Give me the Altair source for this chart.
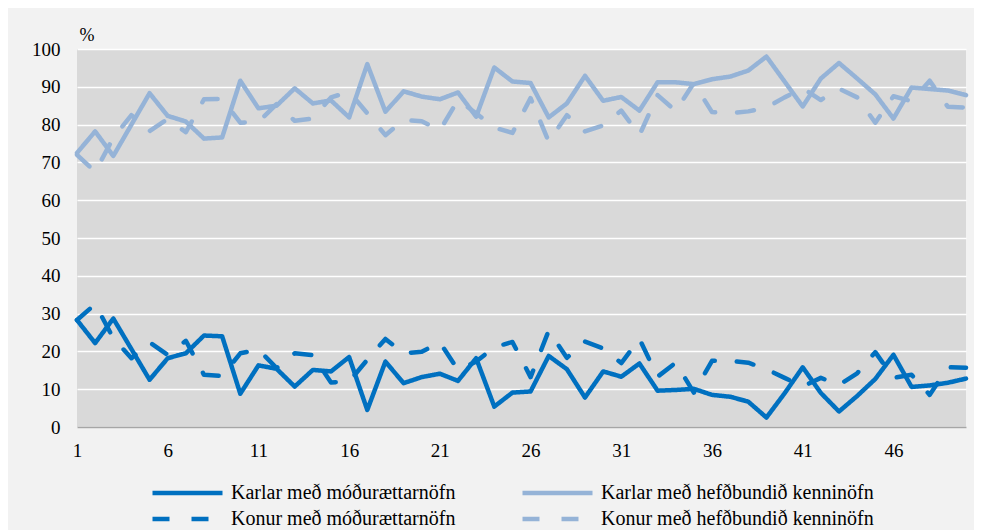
import altair as alt
import pandas as pd

periods = list(range(1, 51))

karlar_modur = [28.3, 22.2, 28.7, 20.6, 12.5, 18.2, 19.5, 24.2, 24.0, 8.8,
                16.3, 15.4, 10.7, 15.1, 14.7, 18.5, 4.5, 17.3, 11.6, 13.2,
                14.1, 12.2, 18.2, 5.4, 9.1, 9.4, 18.8, 15.3, 7.8, 14.7,
                13.3, 16.8, 9.6, 9.8, 10.1, 8.5, 8.0, 6.7, 2.5, 8.9,
                15.8, 9.0, 4.1, 8.2, 12.7, 19.1, 10.6, 11.0, 11.7, 12.8]

karlar_hefd = [72.5, 78.2, 71.7, 80.0, 88.3, 82.3, 80.8, 76.3, 76.6, 91.6,
               84.3, 85.0, 89.6, 85.6, 86.4, 81.9, 96.0, 83.4, 88.8, 87.4,
               86.7, 88.5, 82.1, 95.1, 91.4, 91.0, 81.9, 85.6, 92.9, 86.3,
               87.3, 83.7, 91.2, 91.2, 90.7, 92.0, 92.7, 94.3, 98.0, 91.4,
               84.8, 92.2, 96.3, 92.2, 88.0, 81.6, 89.8, 89.4, 89.0, 87.8]

konur_modur = [28.3, 32.5, 23.5, 18.2, 22.4, 19.1, 22.8, 13.8, 13.5, 19.5,
               20.5, 15.6, 19.5, 19.0, 11.8, 12.0, 17.8, 23.3, 19.5, 19.9,
               22.4, 15.1, 17.3, 21.1, 22.5, 13.2, 25.5, 18.3, 22.6, 20.8,
               16.9, 23.3, 13.3, 17.0, 9.1, 17.5, 17.5, 17.0, 15.3, 13.0,
               10.7, 13.0, 11.1, 14.2, 19.8, 13.0, 13.8, 8.5, 15.8, 15.7]

konur_hefd = [72.0, 67.5, 76.5, 82.5, 78.3, 81.5, 78.0, 86.7, 86.8, 80.5,
              80.7, 85.4, 81.0, 81.6, 87.2, 88.7, 83.0, 77.2, 81.2, 80.9,
              78.5, 86.5, 83.0, 79.2, 77.8, 87.0, 75.5, 82.5, 78.2, 79.8,
              83.7, 77.2, 87.8, 83.6, 91.0, 83.3, 83.0, 83.5, 84.5, 87.2,
              89.6, 86.5, 89.5, 87.2, 80.5, 87.5, 86.2, 91.6, 84.7, 84.5]

# legend order (column-major: left column first, then right column)
series_names = ["Karlar með móðurættarnöfn", "Konur með móðurættarnöfn",
                "Karlar með hefðbundið kenninöfn", "Konur með hefðbundið kenninöfn"]
series_values = [karlar_modur, konur_modur, karlar_hefd, konur_hefd]
series_colors = ["#0070C0", "#0070C0", "#95B3D7", "#95B3D7"]
series_dashes = [[1, 0], [17, 22], [1, 0], [17, 22]]

x_ticks = [1, 6, 11, 16, 21, 26, 31, 36, 41, 46]
y_ticks = list(range(0, 101, 10))

rows = []
for i, name in enumerate(series_names):
    for p, v in zip(periods, series_values[i]):
        rows.append({"period": p, "value": v, "series": name})
df = pd.DataFrame(rows)

FONT = "Liberation Serif"

legend = alt.Legend(
    title=None, orient="none", legendX=73, legendY=431, columns=2,
    symbolType="stroke", symbolSize=4900, symbolStrokeWidth=4.5,
    clipHeight=26, labelFont=FONT, labelFontSize=20, labelColor="#000000",
    labelLimit=500, columnPadding=64, rowPadding=0, padding=0,
    labelOffset=6,
)

chart = alt.Chart(df).mark_line(
    strokeWidth=4.5, strokeCap="round", strokeJoin="round"
).encode(
    x=alt.X("period:Q",
            scale=alt.Scale(domain=[1, 50], nice=False, zero=False),
            axis=alt.Axis(values=x_ticks, title=None, ticks=False, grid=False,
                          domain=True, domainColor="#a6a6a6", domainWidth=1.5,
                          labelFont=FONT, labelFontSize=19, labelColor="#000000",
                          labelPadding=14, labelFlush=False)),
    y=alt.Y("value:Q",
            scale=alt.Scale(domain=[0, 100], nice=False),
            axis=alt.Axis(values=y_ticks, title="%", titleAngle=0, titleX=2, titleY=-9,
                          titleAlign="left", titleBaseline="alphabetic",
                          titleFont=FONT, titleFontSize=18, titleFontWeight="normal",
                          titleColor="#000000",
                          ticks=False, domain=False, grid=True, gridColor="#ffffff",
                          gridWidth=1.5, labelFont=FONT, labelFontSize=19,
                          labelColor="#000000", labelPadding=17)),
    color=alt.Color("series:N",
                    scale=alt.Scale(domain=series_names, range=series_colors),
                    legend=legend),
    strokeDash=alt.StrokeDash("series:N",
                              scale=alt.Scale(domain=series_names, range=series_dashes),
                              legend=legend),
).properties(
    width=889, height=378,
    background="#f2f2f2",
    padding={"left": 69, "top": 41, "right": 8, "bottom": 103},
    autosize=alt.AutoSizeParams(type="none"),
).configure_view(fill="#d9d9d9", stroke=None)

chart.save("out.html", embed_options={"renderer": "svg", "actions": False})
